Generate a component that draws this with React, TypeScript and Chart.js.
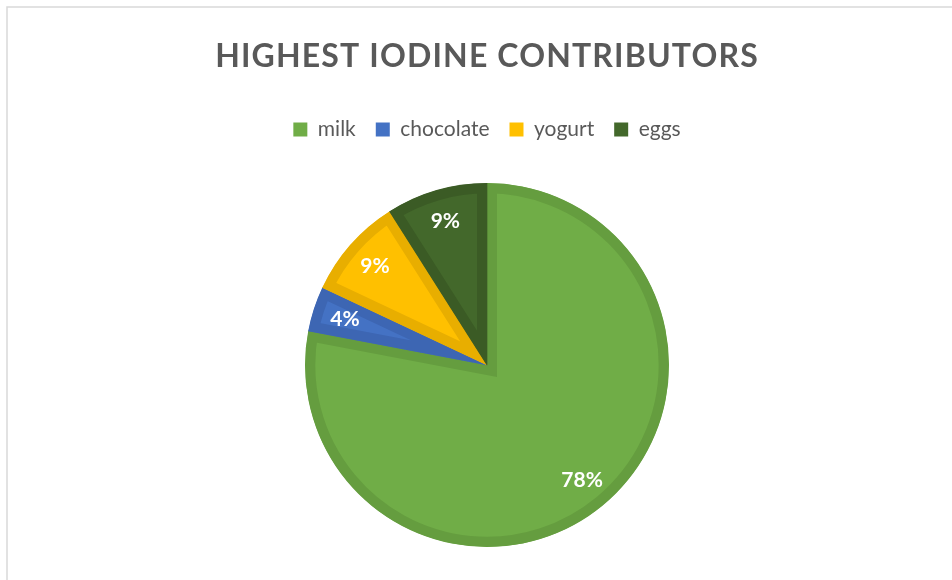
import React, { useEffect, useRef } from "react";
import { Chart, registerables } from "chart.js";

Chart.register(...registerables);

const TITLE = "HIGHEST IODINE CONTRIBUTORS";
const categories = ["milk", "chocolate", "yogurt", "eggs"];
const values = [78, 4, 9, 9];
const fillColors = ["#70AD47", "#4472C4", "#FFC000", "#43682B"];
const borderColors = ["#659D3F", "#3D66B3", "#E8AE00", "#3B5B25"];

const FONT = "Lato, 'Open Sans', sans-serif";

const framePlugin = {
  id: "frame",
  beforeDraw(chart: any) {
    const ctx = chart.ctx;
    ctx.save();
    ctx.fillStyle = "#ffffff";
    ctx.fillRect(0, 0, chart.width, chart.height);
    ctx.strokeStyle = "#D9D9D9";
    ctx.lineWidth = 1.5;
    ctx.strokeRect(7, 7, chart.width + 20, chart.height + 20);
    ctx.restore();
  },
  afterDraw(chart: any) {
    const ctx = chart.ctx;
    const ca = chart.chartArea;
    ctx.save();
    ctx.font = `bold 32px ${FONT}`;
    (ctx as any).letterSpacing = "1.15px";
    ctx.fillStyle = "#595959";
    ctx.textAlign = "center";
    ctx.textBaseline = "middle";
    ctx.fillText(TITLE, (ca.left + ca.right) / 2, 57);
    ctx.restore();
  },
};

const labelPlugin = {
  id: "sliceLabels",
  afterDatasetsDraw(chart: any) {
    const ctx = chart.ctx;
    const meta = chart.getDatasetMeta(0);
    const data = chart.data.datasets[0].data as number[];
    const total = data.reduce((a, b) => a + b, 0);
    ctx.save();
    ctx.font = `bold 21px ${FONT}`;
    ctx.fillStyle = "#ffffff";
    ctx.textAlign = "center";
    ctx.textBaseline = "middle";
    meta.data.forEach((arc: any, i: number) => {
      const { x, y, startAngle, endAngle, outerRadius } = arc.getProps(
        ["x", "y", "startAngle", "endAngle", "outerRadius"],
        true
      );
      const mid = (startAngle + endAngle) / 2;
      const r = outerRadius * 0.82;
      const pct = Math.round((data[i] / total) * 100) + "%";
      ctx.fillText(pct, x + Math.cos(mid) * r, y + Math.sin(mid) * r);
    });
    ctx.restore();
  },
};

export default function App() {
  const ref = useRef<HTMLCanvasElement | null>(null);
  useEffect(() => {
    document.body.style.margin = "0";
    if (!ref.current) return;
    const chart = new Chart(ref.current, {
      type: "pie",
      data: {
        labels: categories,
        datasets: [
          {
            data: values,
            backgroundColor: fillColors,
            borderColor: borderColors,
            borderWidth: 10,
            borderAlign: "inner",
            borderJoinStyle: "miter",
            radius: 182,
          } as any,
        ],
      },
      options: {
        responsive: false,
        animation: false,
        layout: { padding: { top: 99, bottom: -7, left: 22, right: 0 } },
        plugins: {
          title: { display: false },
          tooltip: { enabled: false },
          legend: {
            position: "top",
            labels: {
              font: { family: FONT, size: 21 },
              color: "#595959",
              boxWidth: 14,
              boxHeight: 14,
              padding: 20,
              generateLabels: (chart: any) =>
                categories.map((c, i) => ({
                  text: c,
                  fillStyle: fillColors[i],
                  strokeStyle: fillColors[i],
                  lineWidth: 0,
                  fontColor: "#595959",
                  hidden: false,
                  index: i,
                })),
            },
          },
        },
      },
      plugins: [framePlugin, labelPlugin],
    });
    return () => chart.destroy();
  }, []);
  return (
    <div style={{ width: 952, height: 580 }}>
      <canvas ref={ref} width={952} height={580} />
    </div>
  );
}
